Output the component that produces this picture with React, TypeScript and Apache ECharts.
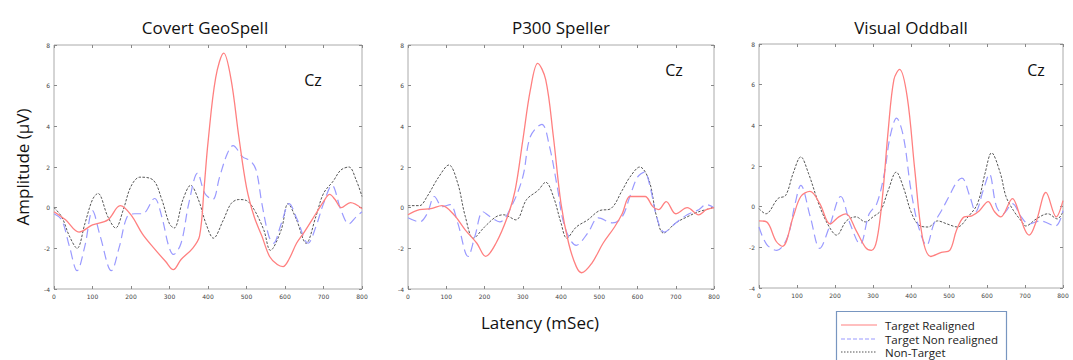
import React, { useEffect, useRef } from "react";
import * as echarts from "echarts";

const panelTitles = ["Covert GeoSpell", "P300 Speller", "Visual Oddball"];
const seriesNames = ["Target Realigned", "Target Non realigned", "Non-Target"];
const xTicks = { min: 0, max: 800, interval: 100 };
const yTicks = { min: -4, max: 8, interval: 2 };

// Panel 1: Covert GeoSpell
const geoRed: number[][] = [
  [0, -0.2], [30, -0.6], [65, -1.2], [100, -0.85], [140, -0.6], [172, 0.1], [200, -0.35], [230, -1.3],
  [260, -2.0], [290, -2.65], [310, -3.05], [330, -2.55], [360, -2.0], [378, -1.4], [390, 1.0], [400, 3.2],
  [420, 6.4], [441, 7.6], [460, 6.3], [480, 3.5], [500, 1.0], [520, -0.45], [540, -1.4], [560, -2.4],
  [580, -2.8], [595, -2.9], [610, -2.55], [630, -1.75], [650, -1.2], [680, -0.3], [700, 0.3], [716, 0.65],
  [730, 0.4], [746, 0.0], [770, 0.25], [800, -0.05],
];
const geoBlue: number[][] = [
  [0, -0.3], [20, -0.6], [40, -1.9], [60, -3.1], [80, -1.9], [100, -0.15], [120, -1.4], [149, -3.1],
  [170, -1.9], [190, -0.45], [210, -0.3], [230, -0.3], [261, 0.45], [280, -0.45], [298, -1.9], [310, -2.3],
  [330, -1.75], [350, 0.2], [373, 1.7], [392, 0.7], [412, 0.4], [430, 1.5], [450, 2.65], [465, 3.05],
  [490, 2.5], [510, 2.3], [525, 1.85], [540, 0.2], [558, -1.4], [570, -1.75], [590, -0.8], [611, 0.2],
  [632, -0.6], [660, -1.75], [680, -0.95], [700, 0.2], [722, 1.1], [745, -0.1], [766, -0.8], [785, -0.45],
  [800, -0.2],
];
const geoBlack: number[][] = [
  [0, 0.0], [20, -0.45], [40, -1.4], [60, -2.0], [80, -0.8], [100, 0.4], [114, 0.7], [140, -0.45],
  [160, -1.0], [180, -0.1], [200, 1.05], [223, 1.5], [258, 1.35], [280, 0.4], [300, -0.8], [312, -1.0],
  [335, 0.4], [355, 1.1], [375, 0.4], [395, -0.8], [414, -1.5], [440, -0.6], [460, 0.2], [480, 0.4],
  [500, 0.35], [520, -0.1], [545, -1.1], [562, -2.1], [590, -1.1], [608, 0.2], [630, -0.6], [655, -1.75],
  [680, -0.45], [700, 0.7], [725, 1.3], [745, 1.85], [766, 2.0], [785, 1.35], [800, 0.55],
];

// Panel 2: P300 Speller
const spRed: number[][] = [
  [0, -0.35], [30, -0.1], [60, -0.05], [89, 0.1], [120, -0.35], [150, -1.1], [180, -1.75], [203, -2.4],
  [230, -1.75], [260, -0.45], [280, 0.85], [300, 3.3], [320, 5.8], [339, 7.1], [360, 6.3], [380, 3.5],
  [400, 0.2], [420, -1.75], [440, -2.9], [454, -3.2], [480, -2.75], [510, -1.75], [540, -0.95], [560, -0.3],
  [580, 0.55], [600, 0.55], [620, 0.55], [640, 0.05], [655, -0.1], [675, 0.3], [700, -0.3], [730, 0.0],
  [760, -0.35], [780, -0.1], [800, 0.0],
];
const spBlue: number[][] = [
  [0, -0.5], [30, -0.7], [50, -0.3], [69, 0.55], [90, 0.05], [110, 0.15], [130, -0.75], [157, -2.4],
  [175, -1.4], [196, -0.2], [215, -0.45], [240, -0.7], [270, 0.05], [300, 1.5], [320, 3.5], [350, 4.1],
  [370, 3.0], [390, 1.05], [410, -0.95], [440, -1.85], [470, -1.25], [498, -0.5], [535, -0.75], [560, -0.45],
  [580, 0.55], [600, 1.5], [618, 1.75], [635, 0.85], [650, -0.45], [670, -1.2], [700, -0.75], [730, -0.35],
  [760, -0.1], [780, 0.15], [800, 0.0],
];
const spBlack: number[][] = [
  [0, 0.1], [30, 0.1], [50, 0.55], [80, 1.5], [107, 2.1], [130, 1.2], [150, -0.45], [171, -1.5],
  [200, -0.95], [230, -0.45], [250, -0.35], [282, -0.6], [310, 0.4], [340, 0.85], [360, 1.25], [380, 0.55],
  [400, -0.75], [415, -1.5], [440, -0.95], [470, -0.6], [500, -0.15], [530, -0.05], [560, 0.85], [580, 1.5],
  [606, 2.0], [630, 1.35], [650, -0.45], [668, -1.25], [700, -0.75], [730, -0.45], [760, -0.2], [800, 0.0],
];

// Panel 3: Visual Oddball
const voRed: number[][] = [
  [0, -0.7], [20, -0.75], [45, -1.7], [62, -1.95], [90, -0.5], [110, 0.5], [134, 0.75], [160, 0.15],
  [187, -0.85], [210, -0.5], [229, -0.35], [255, -1.15], [280, -2.0], [296, -2.15], [310, -1.65], [325, 0.5],
  [340, 3.75], [355, 6.25], [370, 6.75], [390, 5.4], [410, 1.8], [430, -1.5], [452, -2.45], [480, -2.25],
  [502, -2.15], [520, -1.15], [540, -0.5], [560, -0.45], [580, -0.2], [603, 0.25], [620, -0.25], [636, -0.5],
  [667, 0.4], [685, -0.35], [700, -1.15], [711, -1.4], [730, -0.7], [755, 0.7], [782, -0.5], [800, 0.3],
];
const voBlue: number[][] = [
  [0, -1.0], [20, -1.85], [47, -2.15], [75, -1.5], [95, 0.15], [110, 1.05], [135, -0.5], [160, -2.05],
  [185, -1.0], [215, 0.5], [240, -0.85], [266, -1.85], [290, -0.35], [310, 0.15], [330, 1.65], [345, 3.45],
  [362, 4.35], [380, 3.45], [400, 0.8], [420, -1.0], [441, -1.9], [460, -0.85], [480, -0.2], [500, 0.5],
  [520, 1.2], [534, 1.4], [555, 0.5], [570, -0.25], [590, 0.8], [606, 1.6], [625, 0.0], [642, -0.35],
  [667, 0.15], [690, -0.5], [710, -0.85], [740, -0.7], [780, -0.95], [800, -0.2],
];
const voBlack: number[][] = [
  [0, -0.1], [18, -0.35], [50, 0.4], [70, 0.55], [90, 1.65], [110, 2.45], [130, 1.65], [160, 0.0],
  [185, -1.0], [204, -1.4], [230, -0.7], [255, -0.5], [280, -0.75], [300, -0.5], [320, -0.2], [340, 0.8],
  [361, 1.7], [380, 0.95], [400, -0.25], [420, -0.9], [445, -1.0], [470, -0.7], [495, -0.85], [522, -1.0],
  [550, -0.5], [575, 0.15], [595, 1.65], [612, 2.65], [635, 1.65], [650, 0.5], [670, -0.2], [690, -0.7],
  [702, -0.95], [730, -0.6], [760, -0.35], [785, -0.6], [800, -0.25],
];

const panelData = [
  [geoRed, geoBlue, geoBlack],
  [spRed, spBlue, spBlack],
  [voRed, voBlue, voBlack],
];

const grids = [
  { left: 54, top: 45, width: 308, height: 244 },
  { left: 408, top: 45, width: 306, height: 244 },
  { left: 759, top: 44, width: 304, height: 244 },
];
const titleCenters = [205, 561, 911];
const czPos = [
  [313, 80],
  [674, 70],
  [1036, 70],
];

const lineStyles = [
  { color: "#ff8080", width: 1.3, type: "solid" as any },
  { color: "#9a9aff", width: 1.2, type: [9, 5] as any },
  { color: "#555555", width: 1.0, type: [2.5, 1.5] as any },
];

export default function App() {
  const ref = useRef<HTMLDivElement>(null);
  useEffect(() => {
    if (!ref.current) return;
    const chart = echarts.init(ref.current, null, { renderer: "svg" });
    const xAxis: any[] = [];
    const yAxis: any[] = [];
    const series: any[] = [];
    grids.forEach((g, i) => {
      const axisLabel = { fontSize: 6, color: "#444", fontFamily: "DejaVu Sans" };
      const tick = { show: true, inside: true, length: 3, lineStyle: { color: "#888" } };
      const line = { show: false, onZero: false };
      xAxis.push({
        type: "value", gridIndex: i, ...xTicks, position: "bottom",
        axisLine: line, axisTick: tick, splitLine: { show: false },
        axisLabel: { ...axisLabel, margin: 4 },
      });
      xAxis.push({
        type: "value", gridIndex: i, ...xTicks, position: "top",
        axisLine: line, axisTick: tick, splitLine: { show: false },
        axisLabel: { show: false },
      });
      yAxis.push({
        type: "value", gridIndex: i, ...yTicks, position: "left",
        axisLine: line, axisTick: tick, splitLine: { show: false },
        axisLabel: { ...axisLabel, margin: 4 },
      });
      yAxis.push({
        type: "value", gridIndex: i, ...yTicks, position: "right",
        axisLine: line, axisTick: tick, splitLine: { show: false },
        axisLabel: { show: false },
      });
      panelData[i].forEach((d, k) => {
        series.push({
          type: "line", name: seriesNames[k], xAxisIndex: i * 2, yAxisIndex: i * 2,
          data: d, smooth: 0.35, showSymbol: false, symbol: "none",
          lineStyle: lineStyles[k], z: 3 - k,
        });
      });
    });

    const graphic: any[] = [];
    panelTitles.forEach((t, i) => {
      graphic.push({
        type: "text", x: titleCenters[i], y: 27,
        style: { text: t, font: "17px 'Open Sans'", fill: "#111", textAlign: "center", textVerticalAlign: "middle" },
      });
      graphic.push({
        type: "text", x: czPos[i][0], y: czPos[i][1],
        style: { text: "Cz", font: "16px 'Open Sans'", fill: "#111", textAlign: "center", textVerticalAlign: "middle" },
      });
    });
    graphic.push({
      type: "text", x: 22, y: 167, rotation: Math.PI / 2,
      style: { text: "Amplitude (µV)", font: "17px 'Open Sans'", fill: "#111", textAlign: "center", textVerticalAlign: "middle" },
    });
    graphic.push({
      type: "text", x: 540, y: 322,
      style: { text: "Latency (mSec)", font: "17px 'Open Sans'", fill: "#111", textAlign: "center", textVerticalAlign: "middle" },
    });
    graphic.push({
      type: "rect", shape: { x: 836.5, y: 311.5, width: 170, height: 60 },
      style: { fill: "#fff", stroke: "#7896c0", lineWidth: 1.2 },
    });
    [325, 339, 352].forEach((yy, k) => {
      graphic.push({
        type: "line", shape: { x1: 841, y1: yy, x2: 877, y2: yy },
        style: { stroke: lineStyles[k].color, lineWidth: 1.2, lineDash: k === 0 ? null : k === 1 ? [4, 2] : [1.5, 1.5] },
      });
      graphic.push({
        type: "text", x: 885, y: yy,
        style: { text: seriesNames[k], font: "11.5px 'Open Sans'", fill: "#222", textVerticalAlign: "middle" },
      });
    });

    chart.setOption({
      animation: false,
      backgroundColor: "#fff",
      grid: grids.map((g) => ({ ...g, show: true, borderColor: "#aaa", borderWidth: 1, backgroundColor: "transparent" })),
      xAxis,
      yAxis,
      series,
      graphic,
    });
    return () => chart.dispose();
  }, []);
  return (
    <div
      ref={ref}
      style={{ position: "fixed", left: 0, top: 0, width: 1073, height: 360, background: "#fff" }}
    />
  );
}
